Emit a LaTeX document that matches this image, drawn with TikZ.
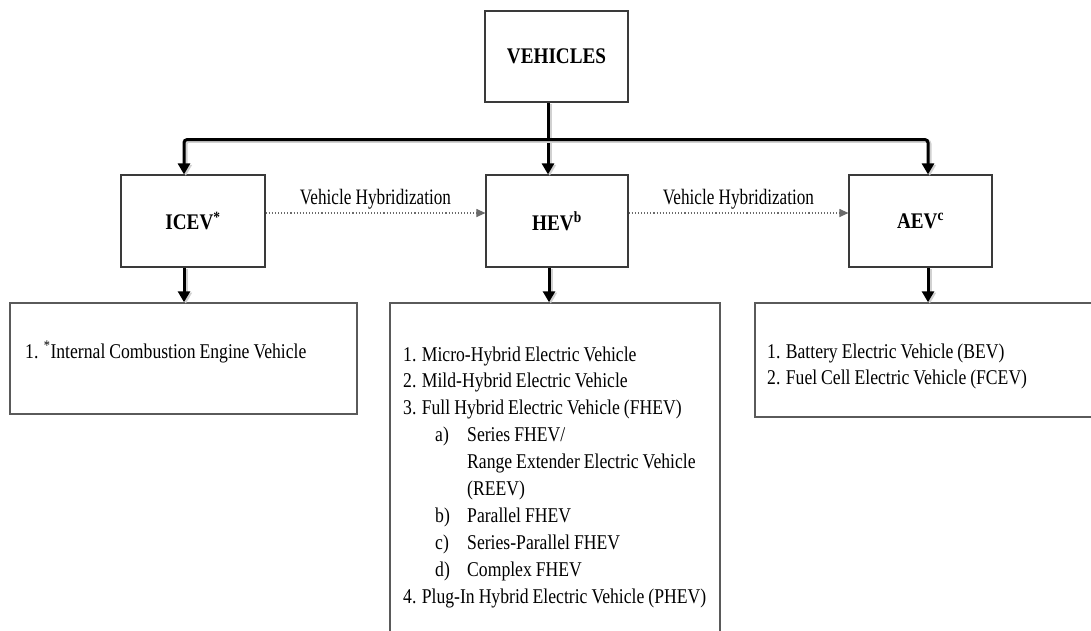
\documentclass[tikz,border=0pt]{standalone}
\usepackage{fontspec}
\setmainfont{Liberation Serif}
\newfontfamily\listfont[FakeStretch=0.84,WordSpace=0.9]{Liberation Serif}
\newfontfamily\hybfont[FakeStretch=0.78]{Liberation Serif}
\newfontfamily\labfont[FakeStretch=0.86]{Liberation Serif}
\usetikzlibrary{arrows.meta,calc}
\definecolor{boxline}{HTML}{3A3A3A}
\definecolor{listline}{HTML}{5A5A5A}
\definecolor{dotline}{HTML}{6A6A6A}
\newcommand{\hevsub}[2]{\hspace*{32pt}\makebox[32pt][l]{#1}#2}
\newcommand{\hevcont}[1]{\hspace*{64pt}#1}
\begin{document}
\begin{tikzpicture}[x=1pt,y=-1pt,
  catbox/.style={draw=boxline, line width=1.2pt, fill=white, inner sep=0pt,
    minimum height=92pt, font=\labfont\bfseries\fontsize{22.3}{26}\selectfont},
  listbox/.style={draw=listline, line width=1.5pt, inner sep=0pt},
  listtext/.style={inner sep=0pt, anchor=base west,
    font=\listfont\fontsize{21}{26.9}\selectfont},
  flow/.style={line width=3pt, -{Triangle[width=12pt,length=11pt]},
    preaction={draw=black!18, line width=3.5pt,
      transform canvas={shift={(1.8pt,-1.4pt)}}}},
  hyb/.style={draw=dotline, line width=1.1pt, dotted,
    -{Triangle[width=8pt,length=9pt]}},
  hyblabel/.style={inner sep=0pt, anchor=base,
    font=\hybfont\fontsize{22}{26}\selectfont}]

\fill[white] (0,0) rectangle (1091,630);
\clip (0,0) rectangle (1091,630);

% category boxes
\node[catbox, minimum width=143pt, minimum height=91pt] (veh) at (556.5,56.5) {VEHICLES};
\node[catbox, minimum width=144pt] (icev) at (193,221) {ICEV\textsuperscript{*}};
\node[catbox, minimum width=142pt] (hev)  at (557,221) {HEV\textsuperscript{b}};
\node[catbox, minimum width=143pt] (aev)  at (920.5,221) {AEV\textsuperscript{c}};

% list boxes
\node[listbox, minimum width=347pt, minimum height=111pt] (icevlist) at (183.5,358.5) {};
\node[listbox, minimum width=330pt, minimum height=347pt] (hevlist)  at (555,476.5) {};
\node[listbox, minimum width=345pt, minimum height=114pt] (aevlist)  at (927.5,360) {};

\node[listtext] (icevitems) at (25,358)
  {1. \textsuperscript{*}Internal Combustion Engine Vehicle};

\node[listtext] (hevitems) at (403,361) {\begin{tabular}[t]{@{}l@{}}
1. Micro-Hybrid Electric Vehicle\\
2. Mild-Hybrid Electric Vehicle\\
3. Full Hybrid Electric Vehicle (FHEV)\\
\hevsub{a)}{Series FHEV/}\\
\hevcont{Range Extender Electric Vehicle}\\
\hevcont{(REEV)}\\
\hevsub{b)}{Parallel FHEV}\\
\hevsub{c)}{Series-Parallel FHEV}\\
\hevsub{d)}{Complex FHEV}\\
4. Plug-In Hybrid Electric Vehicle (PHEV)
\end{tabular}};

\node[listtext, font=\listfont\fontsize{21}{26}\selectfont] (aevitems) at (767,358)
  {\begin{tabular}[t]{@{}l@{}}
1. Battery Electric Vehicle (BEV)\\
2. Fuel Cell Electric Vehicle (FCEV)
\end{tabular}};

% tree connectors
\coordinate (junc) at ($([xshift=-8.5pt]veh.south)+(0,37)$);
\draw[flow] ([xshift=-8.5pt]veh.south) -- ([xshift=-9pt]hev.north);
\draw[flow, rounded corners=3pt] (junc) -| ([xshift=-9pt]icev.north);
\draw[flow, rounded corners=3pt] (junc) -| ([xshift=7.5pt]aev.north);

\draw[flow] ([xshift=-9pt]icev.south) -- ([xshift=-9pt]icev.south |- icevlist.north);
\draw[flow] ([xshift=-8pt]hev.south) -- ([xshift=-8pt]hev.south |- hevlist.north);
\draw[flow] ([xshift=7.5pt]aev.south) -- ([xshift=7.5pt]aev.south |- aevlist.north);

% hybridization links
\draw[hyb] ([yshift=8pt]icev.east) --
  node[hyblabel, yshift=8.5pt] (hyb1) {Vehicle Hybridization} ([yshift=8pt]hev.west);
\draw[hyb] ([yshift=8pt]hev.east) --
  node[hyblabel, yshift=8.5pt] (hyb2) {Vehicle Hybridization} ([yshift=8pt]aev.west);
\end{tikzpicture}
\end{document}
